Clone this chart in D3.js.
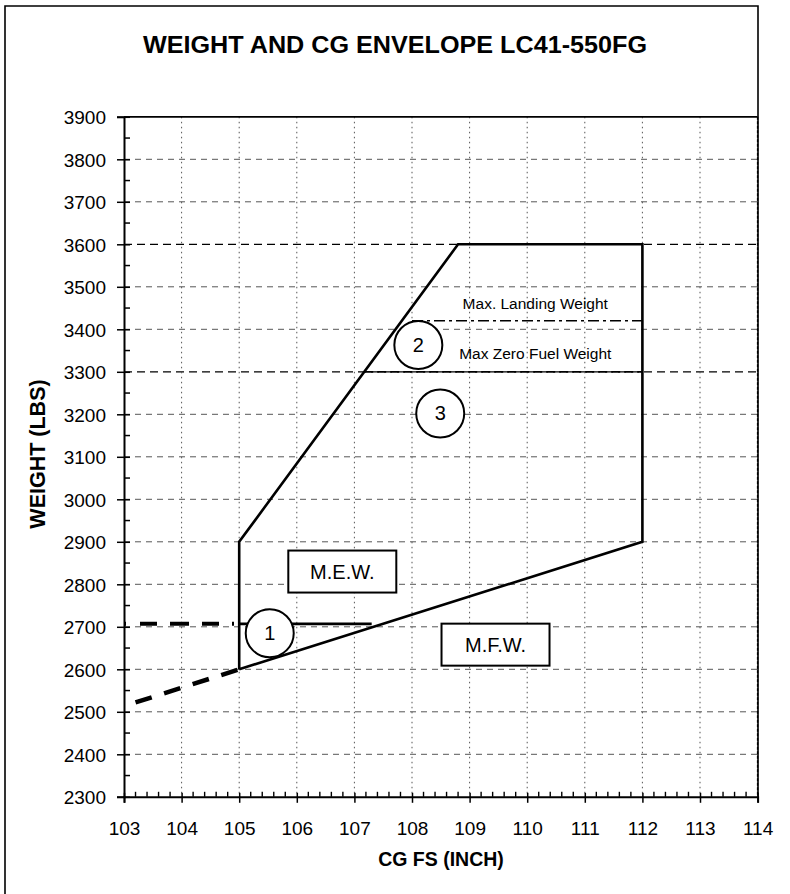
<!DOCTYPE html>
<html>
<head>
<meta charset="utf-8">
<script src="https://cdn.jsdelivr.net/npm/d3@7"></script>
<style>
  html, body { margin: 0; padding: 0; background: #fff; }
  svg { display: block; }
  text { font-family: Arial, "Liberation Sans", sans-serif; fill: #000; }
</style>
</head>
<body>
<svg id="chart" width="790" height="894"></svg>
<script>
// ---- axis ticks ----
const xTickValues = [103, 104, 105, 106, 107, 108, 109, 110, 111, 112, 113, 114];
const yTickValues = [2300, 2400, 2500, 2600, 2700, 2800, 2900, 3000, 3100, 3200, 3300, 3400, 3500, 3600, 3700, 3800, 3900];
const xMinorTicks = [103.2, 103.4, 103.6, 103.8, 104.2, 104.4, 104.6, 104.8, 105.2, 105.4, 105.6, 105.8,
  106.2, 106.4, 106.6, 106.8, 107.2, 107.4, 107.6, 107.8, 108.2, 108.4, 108.6, 108.8,
  109.2, 109.4, 109.6, 109.8, 110.2, 110.4, 110.6, 110.8, 111.2, 111.4, 111.6, 111.8,
  112.2, 112.4, 112.6, 112.8, 113.2, 113.4, 113.6, 113.8];
const yMinorTicks = [2350, 2450, 2550, 2650, 2750, 2850, 2950, 3050, 3150, 3250, 3350, 3450, 3550, 3650, 3750, 3850];

// ---- envelope (CG inch, weight lbs) ----
const envelope = [[105, 2600], [105, 2900], [108.8, 3600], [112, 3600], [112, 2900], [105, 2600]];
const forwardExtension = [[103.2, 2522], [105, 2600]];
const mewDashed = [[103, 2707], [105, 2707]];
const mewSolid = [[105, 2707], [107.3, 2707]];
const landingWeightLine = [[108, 3420], [112, 3420]];
const zeroFuelLine = [[107.17, 3300], [112, 3300]];

// ---- annotations ----
const circledNumbers = [
  { label: "1", x: 105.53, y: 2685 },
  { label: "2", x: 108.11, y: 3363 },
  { label: "3", x: 108.49, y: 3202 }
];
const lineLabels = [
  { text: "Max. Landing Weight", x: 110.14, y: 3447 },
  { text: "Max Zero Fuel Weight", x: 110.14, y: 3329 }
];
const boxedLabels = [
  { text: "M.E.W.", x: 106.79, y: 2830 },
  { text: "M.F.W.", x: 109.45, y: 2658 }
];

const svg = d3.select("#chart");
const W = 790, H = 894;
svg.append("rect").attr("width", W).attr("height", H).attr("fill", "#fff");

const plotLeft = 124, plotRight = 757.6, plotTop = 116.8, plotBottom = 796.8;
const x = d3.scaleLinear().domain([103, 114]).range([plotLeft, plotRight]);
const y = d3.scaleLinear().domain([2300, 3900]).range([plotBottom, plotTop]);
const line = d3.line().x(d => x(d[0])).y(d => y(d[1]));

// page frame
svg.append("path")
  .attr("d", `M5,${H} L5,6 L758,6 L758,${plotBottom}`)
  .attr("fill", "none").attr("stroke", "#000").attr("stroke-width", 1.6);

// title
svg.append("text")
  .attr("x", 395).attr("y", 53)
  .attr("text-anchor", "middle")
  .attr("font-size", 24).attr("font-weight", "bold")
  .attr("textLength", 504).attr("lengthAdjust", "spacingAndGlyphs")
  .text("WEIGHT AND CG ENVELOPE LC41-550FG");

// grid
const strongGrid = d => d === 3600 || d === 3300;
const grid = svg.append("g");
grid.selectAll("line.h")
  .data(yTickValues.filter(v => v > 2300 && v < 3900))
  .join("line")
  .attr("x1", plotLeft).attr("x2", plotRight)
  .attr("y1", d => y(d)).attr("y2", d => y(d))
  .attr("stroke", d => strongGrid(d) ? "#000" : "#444")
  .attr("stroke-width", d => strongGrid(d) ? 1.3 : 0.9)
  .attr("stroke-dasharray", d => strongGrid(d) ? "8,5" : "6,5");
grid.selectAll("line.v")
  .data(xTickValues.filter(v => v > 103 && v < 114))
  .join("line")
  .attr("x1", d => x(d)).attr("x2", d => x(d))
  .attr("y1", plotTop).attr("y2", plotBottom)
  .attr("stroke", "#555").attr("stroke-width", 1)
  .attr("stroke-dasharray", "1.5,3.5");

// plot frame: top solid, right dotted
svg.append("line").attr("x1", plotLeft).attr("x2", plotRight).attr("y1", plotTop).attr("y2", plotTop)
  .attr("stroke", "#000").attr("stroke-width", 1.8);
svg.append("line").attr("x1", plotRight).attr("x2", plotRight).attr("y1", plotTop).attr("y2", plotBottom)
  .attr("stroke", "#000").attr("stroke-width", 1.4).attr("stroke-dasharray", "3,1.5");

// axes
const yAxis = svg.append("g").attr("transform", `translate(${plotLeft},0)`)
  .call(d3.axisLeft(y).tickValues(yTickValues).tickFormat(d3.format("d")).tickSize(7).tickPadding(11));
yAxis.select(".domain").attr("stroke-width", 2);
yAxis.selectAll(".tick line").attr("x2", -7).attr("x1", 6).attr("stroke-width", 1.5);
yAxis.selectAll(".tick text").attr("font-size", 19).attr("font-family", "Arial, 'Liberation Sans', sans-serif").attr("dy", "0.36em");
svg.append("g").selectAll("line").data(yMinorTicks).join("line")
  .attr("x1", plotLeft).attr("x2", plotLeft + 6)
  .attr("y1", d => y(d)).attr("y2", d => y(d))
  .attr("stroke", "#000").attr("stroke-width", 1.5);

const xAxis = svg.append("g").attr("transform", `translate(0,${plotBottom})`)
  .call(d3.axisBottom(x).tickValues(xTickValues).tickFormat(d3.format("d")).tickSize(6).tickPadding(19));
xAxis.select(".domain").attr("stroke-width", 2);
xAxis.selectAll(".tick line").attr("y1", -4).attr("stroke-width", 1.5);
xAxis.selectAll(".tick text").attr("font-size", 19).attr("font-family", "Arial, 'Liberation Sans', sans-serif");
svg.append("g").selectAll("line").data(xMinorTicks).join("line")
  .attr("x1", d => x(d)).attr("x2", d => x(d))
  .attr("y1", plotBottom).attr("y2", plotBottom - 5)
  .attr("stroke", "#000").attr("stroke-width", 1.4);

// axis titles
svg.append("text")
  .attr("transform", `translate(45,454) rotate(-90)`)
  .attr("text-anchor", "middle")
  .attr("font-size", 21.5).attr("font-weight", "bold")
  .text("WEIGHT (LBS)");
svg.append("text")
  .attr("x", 441).attr("y", 866)
  .attr("text-anchor", "middle")
  .attr("font-size", 19.5).attr("font-weight", "bold")
  .text("CG FS (INCH)");

// limit lines
svg.append("path").attr("d", line(landingWeightLine))
  .attr("fill", "none").attr("stroke", "#000").attr("stroke-width", 1.4)
  .attr("stroke-dasharray", "11,4,3,4");
svg.append("path").attr("d", line(zeroFuelLine))
  .attr("fill", "none").attr("stroke", "#000").attr("stroke-width", 1.8)
  .attr("stroke-dasharray", "9,4");

// envelope
svg.append("path").attr("d", line(envelope))
  .attr("fill", "none").attr("stroke", "#000").attr("stroke-width", 2.6)
  .attr("stroke-linejoin", "miter");
svg.append("path").attr("d", line(forwardExtension))
  .attr("fill", "none").attr("stroke", "#000").attr("stroke-width", 4.5)
  .attr("stroke-dasharray", "17,13");
svg.append("path").attr("d", line(mewDashed))
  .attr("fill", "none").attr("stroke", "#000").attr("stroke-width", 4)
  .attr("stroke-dasharray", "2,14,17,13,19,13,17,13");
svg.append("path").attr("d", line(mewSolid))
  .attr("fill", "none").attr("stroke", "#000").attr("stroke-width", 2.6);

// text next to limit lines
svg.append("g").selectAll("text").data(lineLabels).join("text")
  .attr("x", d => x(d.x)).attr("y", d => y(d.y))
  .attr("text-anchor", "middle")
  .attr("font-size", 15.5)
  .text(d => d.text);

// boxed labels
const boxes = svg.append("g").selectAll("g").data(boxedLabels).join("g")
  .attr("transform", d => `translate(${x(d.x)},${y(d.y)})`);
boxes.append("rect")
  .attr("x", -54).attr("y", -21).attr("width", 108).attr("height", 42)
  .attr("fill", "#fff").attr("stroke", "#000").attr("stroke-width", 2);
boxes.append("text")
  .attr("text-anchor", "middle").attr("dy", "0.36em")
  .attr("font-size", 20)
  .text(d => d.text);

// circled region numbers
const circles = svg.append("g").selectAll("g").data(circledNumbers).join("g")
  .attr("transform", d => `translate(${x(d.x)},${y(d.y)})`);
circles.append("circle")
  .attr("r", 24)
  .attr("fill", "#fff").attr("stroke", "#000").attr("stroke-width", 2);
circles.append("text")
  .attr("text-anchor", "middle").attr("dy", "0.34em")
  .attr("font-family", "'Liberation Serif', 'Times New Roman', serif")
  .attr("font-size", 20)
  .text(d => d.label);
</script>
</body>
</html>
